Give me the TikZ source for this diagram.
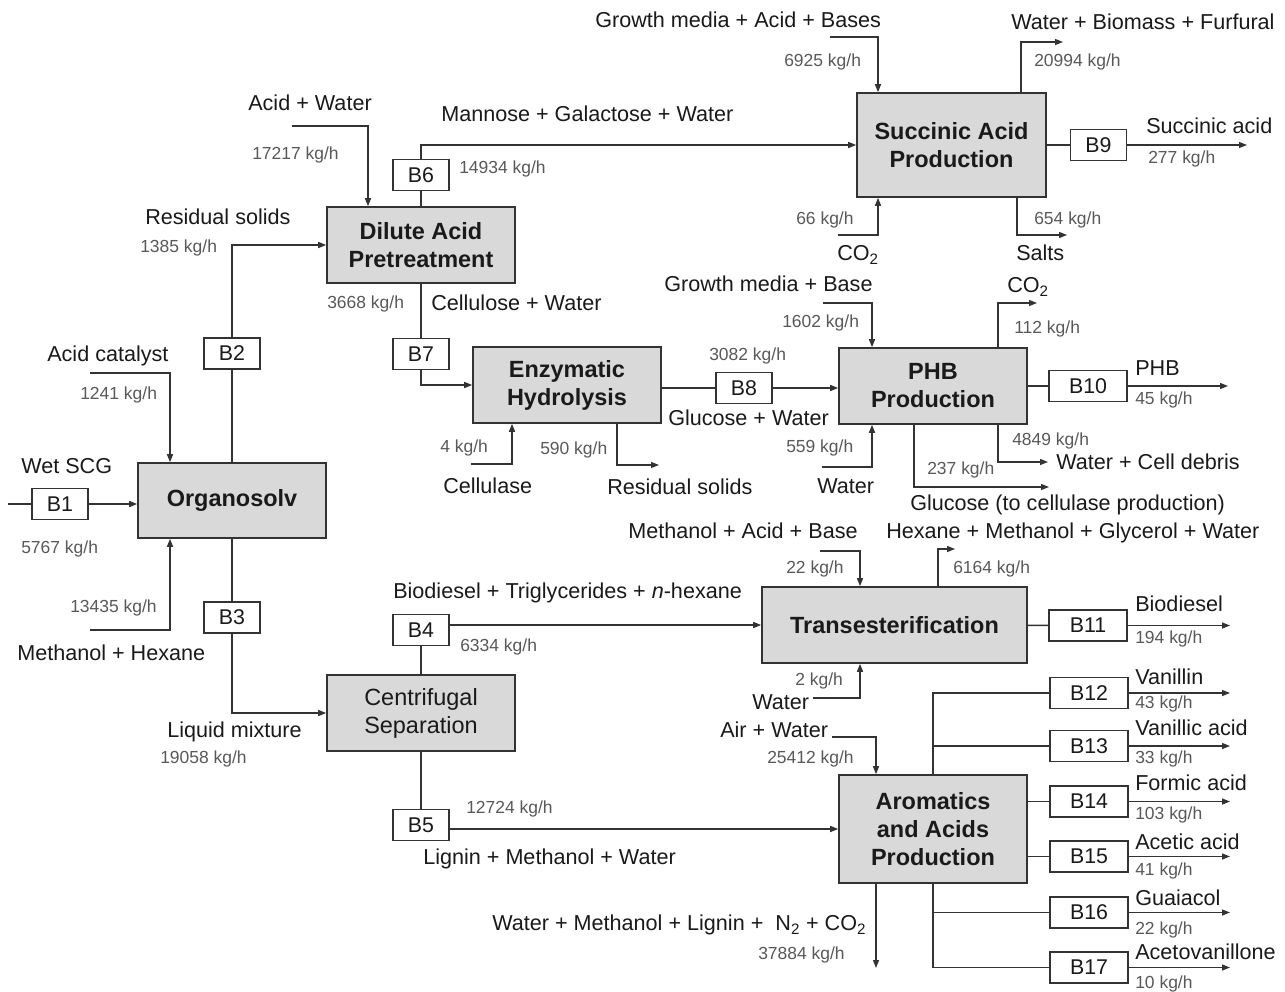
\documentclass[tikz,border=0pt]{standalone}
\usepackage{fontspec}
\setmainfont{Liberation Sans}
\usetikzlibrary{arrows.meta}
\definecolor{linec}{HTML}{333333}
\definecolor{boxfill}{HTML}{D9D9D9}
\definecolor{numc}{HTML}{595959}
\definecolor{txtc}{HTML}{1A1A1A}
\begin{document}
\begin{tikzpicture}[x=0.75pt,y=-0.75pt,
  proc/.style={draw=linec, line width=1.2pt, fill=boxfill, align=center, inner sep=0pt,
    font=\fontsize{17.6}{21}\selectfont\bfseries, text=txtc},
  bb/.style={draw=linec, line width=1pt, fill=white, minimum width=42pt, minimum height=23.25pt,
    inner sep=0pt, font=\fontsize{16}{19}\selectfont, text=txtc},
  bbw/.style={bb, minimum width=58.5pt},
  lab/.style={anchor=west, inner sep=0pt, text height=11.6pt, text depth=0pt,
    font=\fontsize{16.2}{19}\selectfont, text=txtc},
  num/.style={anchor=west, inner sep=0pt, text height=9.3pt, text depth=0pt,
    font=\fontsize{13.1}{15}\selectfont, text=numc},
  ln/.style={draw=linec, line width=1pt},
  arr/.style={ln, -{Triangle[length=6pt,width=4.5pt]}},
]
\fill[white] (0,0) rectangle (1285,992);
\useasboundingbox (0,0) rectangle (1285,992);

% process boxes
\node[proc, minimum width=141pt, minimum height=56.25pt] (org) at (232,500.5) {Organosolv};
\node[proc, minimum width=141pt, minimum height=57pt] (dil) at (421,245) {Dilute Acid\\Pretreatment};
\node[proc, minimum width=141pt, minimum height=57pt] (enz) at (567,385) {Enzymatic\\Hydrolysis};
\node[proc, minimum width=141.75pt, minimum height=78pt] (suc) at (951.5,145) {Succinic Acid\\Production};
\node[proc, minimum width=141pt, minimum height=57pt] (phb) at (933,386) {PHB\\Production};
\node[proc, minimum width=141pt, minimum height=57pt, font=\fontsize{17.6}{21}\selectfont] (cen) at (421,713) {Centrifugal\\Separation};
\node[proc, minimum width=198.75pt, minimum height=57pt] (tra) at (894.5,625) {Transesterification};
\node[proc, minimum width=141pt, minimum height=81pt] (aro) at (933,829) {Aromatics\\and Acids\\Production};

% B boxes
\node[bb] (b1) at (60,504) {B1};
\node[bb] (b2) at (232,353.5) {B2};
\node[bb] (b3) at (232,617.5) {B3};
\node[bb] (b4) at (421,630) {B4};
\node[bb] (b5) at (421,825) {B5};
\node[bb] (b6) at (421,175) {B6};
\node[bb] (b7) at (421,354) {B7};
\node[bb] (b8) at (744,388) {B8};
\node[bb] (b9) at (1098.5,145) {B9};
\node[bbw] (b10) at (1088,386) {B10};
\node[bbw] (b11) at (1088,625.5) {B11};
\node[bbw] (b12) at (1089,693) {B12};
\node[bbw] (b13) at (1089,746) {B13};
\node[bbw] (b14) at (1089,801.5) {B14};
\node[bbw] (b15) at (1089,856.5) {B15};
\node[bbw] (b16) at (1089,912.5) {B16};
\node[bbw] (b17) at (1089,967.5) {B17};

% free ends and bend columns
\coordinate (in1) at (8,504);
\coordinate (ac) at (90,373);
\coordinate (mh) at (90,630);
\coordinate (acx) at (170,0);
\coordinate (aw) at (292,126);
\coordinate (awx) at (368,0);
\coordinate (cl) at (471,464);
\coordinate (clx) at (512,0);
\coordinate (rsx) at (617,0);
\coordinate (rs) at (659,465);
\coordinate (gm) at (823,303);
\coordinate (wp) at (822,467);
\coordinate (gmx) at (872,0);
\coordinate (cox) at (998,0);
\coordinate (coe) at (1037,303);
\coordinate (wd) at (1048,462);
\coordinate (glx) at (914,0);
\coordinate (gl) at (1049,487);
\coordinate (p10) at (1228,386);
\coordinate (gab) at (830,37);
\coordinate (gabx) at (878,0);
\coordinate (wbx) at (1021,0);
\coordinate (wbf) at (1063,42);
\coordinate (p9) at (1247,145);
\coordinate (co2i) at (838,235);
\coordinate (sax) at (1017,0);
\coordinate (salt) at (1067,235);
\coordinate (mab) at (820,551);
\coordinate (wt) at (813,698);
\coordinate (trx) at (860,0);
\coordinate (hx) at (938,0);
\coordinate (hmg) at (955,549);
\coordinate (p11) at (1230,625.5);
\coordinate (aw2) at (832,737);
\coordinate (axx) at (876,0);
\coordinate (bo) at (876,968);
\coordinate (p12) at (1230,693);
\coordinate (p13) at (1230,746);
\coordinate (p14) at (1230,801.5);
\coordinate (p15) at (1230,856.5);
\coordinate (p16) at (1230,912.5);
\coordinate (p17) at (1230,967.5);

% connectors
\draw[ln] (in1) -- (b1);
\draw[arr] (b1) -- (b1 -| org.west);
\draw[arr] (ac) -| (acx |- org.north);
\draw[arr] (mh) -| (acx |- org.south);
\draw[ln] (org) -- (b2);
\draw[arr] (b2) |- (dil.west);
\draw[ln] (org) -- (b3);
\draw[arr] (b3) |- (cen.west);
\draw[arr] (aw) -| (awx |- dil.north);
\draw[ln] (dil) -- (b6);
\draw[arr] (b6) |- (suc.west);
\draw[ln] (dil) -- (b7);
\draw[arr] (b7) |- (enz.west);
\draw[ln] (enz.east |- b8) -- (b8);
\draw[arr] (b8) -- (b8 -| phb.west);
\draw[arr] (cl) -| (clx |- enz.south);
\draw[arr] (rsx |- enz.south) |- (rs);
\draw[arr] (gm) -| (gmx |- phb.north);
\draw[arr] (wp) -| (gmx |- phb.south);
\draw[arr] (cox |- phb.north) |- (coe);
\draw[ln] (phb) -- (b10);
\draw[arr] (b10) -- (p10);
\draw[arr] (cox |- phb.south) |- (wd);
\draw[arr] (glx |- phb.south) |- (gl);
\draw[arr] (gab) -| (gabx |- suc.north);
\draw[arr] (wbx |- suc.north) |- (wbf);
\draw[ln] (suc) -- (b9);
\draw[arr] (b9) -- (p9);
\draw[arr] (co2i) -| (gabx |- suc.south);
\draw[arr] (sax |- suc.south) |- (salt);
\draw[ln] (cen) -- (b4);
\draw[arr] (b4.east |- tra.west) -- (tra.west);
\draw[arr] (mab) -| (trx |- tra.north);
\draw[arr] (wt) -| (trx |- tra.south);
\draw[arr] (hx |- tra.north) |- (hmg);
\draw[ln] (tra) -- (b11);
\draw[arr] (b11) -- (p11);
\draw[ln] (cen) -- (b5);
\draw[arr] (b5.east |- aro.west) -- (aro.west);
\draw[arr] (aw2) -| (axx |- aro.north);
\draw[arr] (axx |- aro.south) -- (bo);
\draw[ln] (aro.north) |- (b12);
\draw[ln] (aro.north |- b13) -- (b13);
\draw[ln] (aro.east |- b14) -- (b14);
\draw[ln] (aro.east |- b15) -- (b15);
\draw[ln] (aro.south |- b16) -- (b16);
\draw[ln] (aro.south) |- (b17);
\draw[arr] (b12) -- (p12);
\draw[arr] (b13) -- (p13);
\draw[arr] (b14) -- (p14);
\draw[arr] (b15) -- (p15);
\draw[arr] (b16) -- (p16);
\draw[arr] (b17) -- (p17);

% stream labels
\node[lab] (t1) at (595,20) {Growth media + Acid + Bases};
\node[lab] (t2) at (1011,22) {Water + Biomass + Furfural};
\node[lab] (t3) at (248,103) {Acid + Water};
\node[lab] (t4) at (441,114) {Mannose + Galactose + Water};
\node[lab] (t5) at (1146,126) {Succinic acid};
\node[lab] (t6) at (145,217) {Residual solids};
\node[lab] (t7) at (837,253) {CO\textsubscript{2}};
\node[lab] (t8) at (1016,253) {Salts};
\node[lab] (t9) at (664,284) {Growth media + Base};
\node[lab] (t10) at (1007,285) {CO\textsubscript{2}};
\node[lab] (t11) at (431,303) {Cellulose + Water};
\node[lab] (t12) at (47,354) {Acid catalyst};
\node[lab] (t13) at (1135,368) {PHB};
\node[lab] (t14) at (668,418) {Glucose + Water};
\node[lab] (t15) at (1056,462) {Water + Cell debris};
\node[lab] (t16) at (21,466) {Wet SCG};
\node[lab] (t17) at (443,486) {Cellulase};
\node[lab] (t18) at (607,487) {Residual solids};
\node[lab] (t19) at (817,486) {Water};
\node[lab] (t20) at (910,503) {Glucose (to cellulase production)};
\node[lab] (t21) at (628,531) {Methanol + Acid + Base};
\node[lab] (t22) at (886,531) {Hexane + Methanol + Glycerol + Water};
\node[lab] (t23) at (393,591) {Biodiesel + Triglycerides + \textit{n}-hexane};
\node[lab] (t24) at (1135,604) {Biodiesel};
\node[lab] (t25) at (17,653) {Methanol + Hexane};
\node[lab] (t26) at (1135,677) {Vanillin};
\node[lab] (t27) at (752,702) {Water};
\node[lab] (t28) at (720,730) {Air + Water};
\node[lab] (t29) at (1135,728) {Vanillic acid};
\node[lab] (t30) at (167,730) {Liquid mixture};
\node[lab] (t31) at (1135,783) {Formic acid};
\node[lab] (t32) at (1135,842) {Acetic acid};
\node[lab] (t33) at (423,857) {Lignin + Methanol + Water};
\node[lab] (t34) at (1135,898) {Guaiacol};
\node[lab] (t35) at (492,923) {Water + Methanol + Lignin + \ N\textsubscript{2} + CO\textsubscript{2}};
\node[lab] (t36) at (1135,952) {Acetovanillone};

% flow rates
\node[num] (n1) at (784,60) {6925 kg/h};
\node[num] (n2) at (1034,60) {20994 kg/h};
\node[num] (n3) at (252,153) {17217 kg/h};
\node[num] (n4) at (459,167) {14934 kg/h};
\node[num] (n5) at (1148,157) {277 kg/h};
\node[num] (n6) at (796,218) {66 kg/h};
\node[num] (n7) at (1034,218) {654 kg/h};
\node[num] (n8) at (140,246) {1385 kg/h};
\node[num] (n9) at (327,302) {3668 kg/h};
\node[num] (n10) at (782,321) {1602 kg/h};
\node[num] (n11) at (1014,327) {112 kg/h};
\node[num] (n12) at (709,354) {3082 kg/h};
\node[num] (n13) at (80,393) {1241 kg/h};
\node[num] (n14) at (1135,398) {45 kg/h};
\node[num] (n15) at (1012,439) {4849 kg/h};
\node[num] (n16) at (440,446) {4 kg/h};
\node[num] (n17) at (540,448) {590 kg/h};
\node[num] (n18) at (786,446) {559 kg/h};
\node[num] (n19) at (927,468) {237 kg/h};
\node[num] (n20) at (21,547) {5767 kg/h};
\node[num] (n21) at (786,567) {22 kg/h};
\node[num] (n22) at (953,567) {6164 kg/h};
\node[num] (n23) at (70,606) {13435 kg/h};
\node[num] (n24) at (460,645) {6334 kg/h};
\node[num] (n25) at (1135,637) {194 kg/h};
\node[num] (n26) at (795,679) {2 kg/h};
\node[num] (n27) at (1135,702) {43 kg/h};
\node[num] (n28) at (767,757) {25412 kg/h};
\node[num] (n29) at (160,757) {19058 kg/h};
\node[num] (n30) at (1135,757) {33 kg/h};
\node[num] (n31) at (466,807) {12724 kg/h};
\node[num] (n32) at (1135,813) {103 kg/h};
\node[num] (n33) at (1135,869) {41 kg/h};
\node[num] (n34) at (1135,928) {22 kg/h};
\node[num] (n35) at (758,953) {37884 kg/h};
\node[num] (n36) at (1135,982) {10 kg/h};
\end{tikzpicture}
\end{document}
